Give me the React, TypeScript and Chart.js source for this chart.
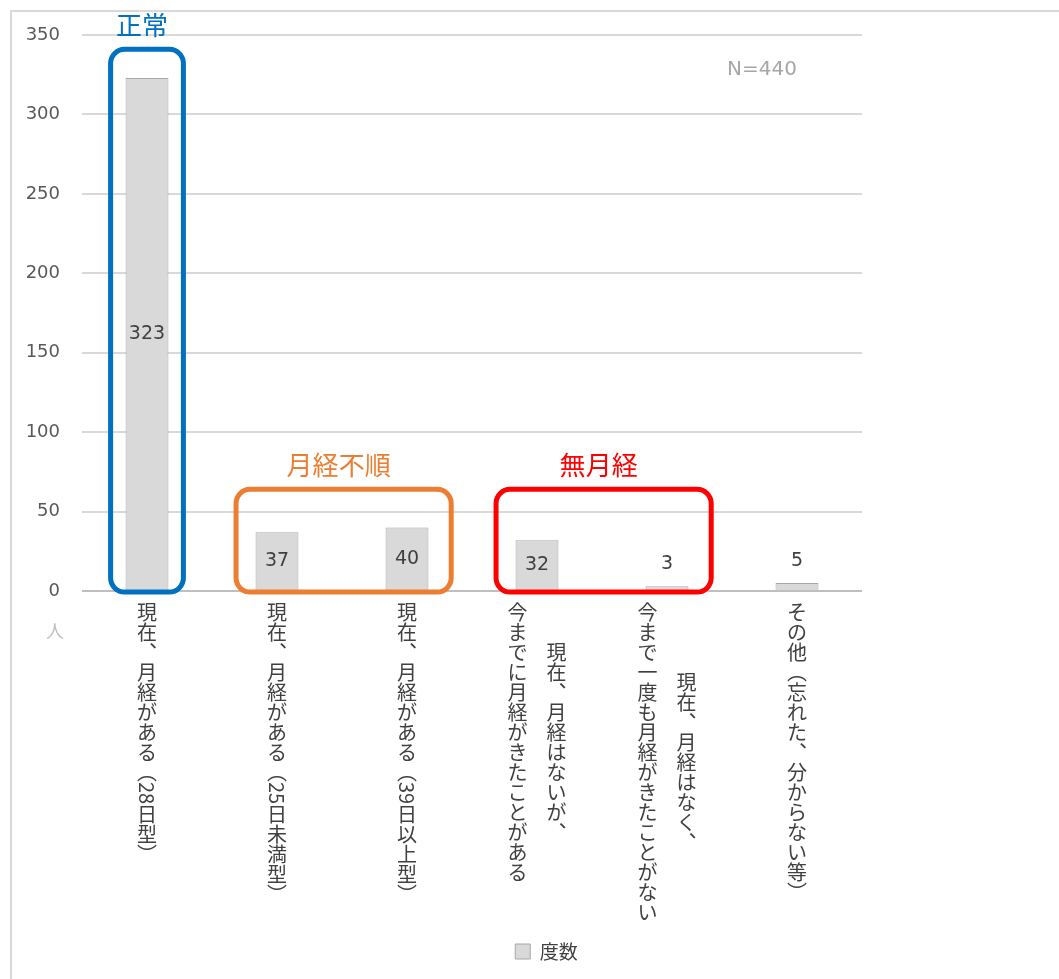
import React, { useEffect, useRef } from 'react';
import { Chart, registerables } from 'chart.js';

Chart.register(...registerables);

// ---------------- data ----------------
const categories: string[][] = [
  ['現在、月経がある（28日型）'],
  ['現在、月経がある（25日未満型）'],
  ['現在、月経がある（39日以上型）'],
  ['現在、月経はないが、', '今までに月経がきたことがある'],
  ['現在、月経はなく、', '今まで一度も月経がきたことがない'],
  ['その他（忘れた、分からない等）'],
];
const counts: number[] = [323, 37, 40, 32, 3, 5];
const seriesName = '度数';
const yMin = 0;
const yMax = 350;
const yStep = 50;
const unitLabel = '人';
const sampleNote = 'N=440';

const groupLabels: string[] = ['正常', '月経不順', '無月経'];
const groupFirst: number[] = [0, 1, 3];
const groupLast: number[] = [0, 2, 4];
const groupTopValue: number[] = [341, 64, 64];
const groupColors: string[] = ['#0070C0', '#ED7D31', '#FF0000'];

// ---------------- fonts / styles ----------------
const NUM_FONT = '"DejaVu Sans", "Noto Sans CJK JP", sans-serif';
const JP_FONT = '"Noto Sans CJK JP", sans-serif';
const TEXT = '#404040';

const VERT: Record<string, string> = {
  '、': '\ufe11',
  '。': '\ufe12',
  '（': '\ufe35',
  '）': '\ufe36',
};
const isAscii = (c: string) => /[\x20-\x7e]/.test(c);

function verticalLength(ctx: CanvasRenderingContext2D, text: string, size: number) {
  let len = 0;
  let i = 0;
  while (i < text.length) {
    if (isAscii(text[i])) {
      let run = '';
      while (i < text.length && isAscii(text[i])) { run += text[i]; i++; }
      len += ctx.measureText(run).width;
    } else {
      len += size;
      i++;
    }
  }
  return len;
}

function drawVertical(ctx: CanvasRenderingContext2D, text: string, cx: number, top: number, size: number) {
  let y = top;
  let i = 0;
  while (i < text.length) {
    if (isAscii(text[i])) {
      let run = '';
      while (i < text.length && isAscii(text[i])) { run += text[i]; i++; }
      const w = ctx.measureText(run).width;
      ctx.save();
      ctx.translate(cx, y);
      ctx.rotate(Math.PI / 2);
      ctx.textAlign = 'left';
      ctx.textBaseline = 'middle';
      ctx.fillText(run, 0, 0);
      ctx.restore();
      y += w;
    } else {
      const c = VERT[text[i]] || text[i];
      ctx.textAlign = 'center';
      ctx.textBaseline = 'middle';
      ctx.fillText(c, cx, y + size / 2);
      y += size;
      i++;
    }
  }
}

const framePlugin = {
  id: 'frame',
  beforeDraw(chart: any) {
    const { ctx, width, height } = chart;
    ctx.save();
    ctx.strokeStyle = '#d9d9d9';
    ctx.lineWidth = 2;
    ctx.beginPath();
    ctx.moveTo(11, height + 5);
    ctx.lineTo(11, 11);
    ctx.lineTo(width + 5, 11);
    ctx.stroke();
    ctx.restore();
  },
};

const annotationsPlugin = {
  id: 'annotations',
  afterDatasetsDraw(chart: any) {
    const { ctx } = chart;
    const x = chart.scales.x;
    const y = chart.scales.y;
    const catW = x.getPixelForValue(1) - x.getPixelForValue(0);
    const zero = y.getPixelForValue(0);

    // data labels
    const meta = chart.getDatasetMeta(0);
    ctx.save();
    ctx.font = `19px ${NUM_FONT}`;
    ctx.fillStyle = TEXT;
    ctx.textAlign = 'center';
    ctx.textBaseline = 'middle';
    meta.data.forEach((bar: any, i: number) => {
      const h = bar.base - bar.y;
      const ly = h > 30 ? (bar.y + bar.base) / 2 : bar.y - 22;
      ctx.fillText(String(counts[i]), bar.x, ly);
    });
    ctx.restore();

    // group boxes
    groupLabels.forEach((label, g) => {
      const single = groupFirst[g] === groupLast[g];
      const left = x.getPixelForValue(groupFirst[g]) - catW * (single ? 0.28 : 0.315);
      const right = x.getPixelForValue(groupLast[g]) + catW * (single ? 0.28 : 0.34);
      const top = y.getPixelForValue(groupTopValue[g]);
      const bottom = zero + 1;
      ctx.save();
      ctx.strokeStyle = groupColors[g];
      ctx.lineWidth = 5;
      ctx.beginPath();
      ctx.roundRect(left, top, right - left, bottom - top, 14);
      ctx.stroke();
      ctx.font = `26px ${JP_FONT}`;
      ctx.fillStyle = groupColors[g];
      ctx.textAlign = 'center';
      ctx.textBaseline = 'middle';
      ctx.fillText(label, (left + right) / 2 - 5, top - 24);
      ctx.restore();
    });
  },
  afterDraw(chart: any) {
    const { ctx, chartArea } = chart;
    const x = chart.scales.x;
    const y = chart.scales.y;
    const size = 20;
    const pitch = 39;
    ctx.save();
    ctx.font = `${size}px ${JP_FONT}`;
    ctx.fillStyle = TEXT;
    const top = chartArea.bottom + 11;
    categories.forEach((lines, i) => {
      const cx = x.getPixelForValue(i);
      const lens = lines.map((l) => verticalLength(ctx, l, size));
      const block = Math.max(...lens);
      lines.forEach((line, j) => {
        const colX = cx + ((lines.length - 1) / 2 - j) * pitch;
        drawVertical(ctx, line, colX, top + (block - lens[j]) / 2, size);
      });
    });
    ctx.restore();

    // unit label
    ctx.save();
    ctx.font = `18px ${JP_FONT}`;
    ctx.fillStyle = '#bfbfbf';
    ctx.textAlign = 'center';
    ctx.textBaseline = 'middle';
    ctx.fillText(unitLabel, chartArea.left - 27, y.getPixelForValue(0) + 40);
    ctx.restore();

    // N note
    ctx.save();
    ctx.font = `20px ${NUM_FONT}`;
    ctx.fillStyle = '#a6a6a6';
    ctx.textAlign = 'right';
    ctx.textBaseline = 'middle';
    ctx.fillText(sampleNote, chartArea.right - 65, chartArea.top + 35);
    ctx.restore();
  },
};

export default function App() {
  const ref = useRef<HTMLCanvasElement | null>(null);

  useEffect(() => {
    if (!ref.current) return;
    const chart = new Chart(ref.current, {
      type: 'bar',
      data: {
        labels: categories.map((c) => c.join('')),
        datasets: [
          {
            label: seriesName,
            data: counts,
            backgroundColor: '#d9d9d9',
            borderColor: '#a6a6a6',
            borderWidth: 1,
            barPercentage: 0.33,
            categoryPercentage: 1,
          },
        ],
      },
      options: {
        responsive: false,
        animation: false,
        layout: { padding: { left: 20, top: 35, right: -14, bottom: 8 } },
        plugins: {
          legend: {
            position: 'bottom',
            labels: {
              boxWidth: 15,
              boxHeight: 15,
              padding: 10,
              color: TEXT,
              font: { family: JP_FONT, size: 19 },
            },
          },
          tooltip: { enabled: false },
        },
        scales: {
          x: {
            grid: { display: false },
            border: { display: false },
            ticks: { display: false },
            afterFit: (s: any) => { s.height = 341; },
          },
          y: {
            min: yMin,
            max: yMax,
            ticks: {
              stepSize: yStep,
              padding: 22,
              color: '#595959',
              font: { family: NUM_FONT, size: 18 },
            },
            grid: {
              drawTicks: false,
              lineWidth: 2,
              color: (c: any) => (c.tick && c.tick.value === 0 ? '#bfbfbf' : '#d9d9d9'),
            },
            border: { display: false },
            afterFit: (s: any) => { s.width = 62; },
          },
          yRight: {
            position: 'right',
            display: true,
            grid: { display: false },
            border: { display: false },
            ticks: { display: false },
            afterFit: (s: any) => { s.width = 211; },
          },
        },
      },
      plugins: [framePlugin, annotationsPlugin],
    } as any);
    return () => chart.destroy();
  }, []);

  return (
    <div style={{ position: 'fixed', left: 0, top: 0, width: 1059, height: 979, background: '#fff' }}>
      <canvas ref={ref} width={1059} height={979} style={{ display: 'block' }} />
    </div>
  );
}
